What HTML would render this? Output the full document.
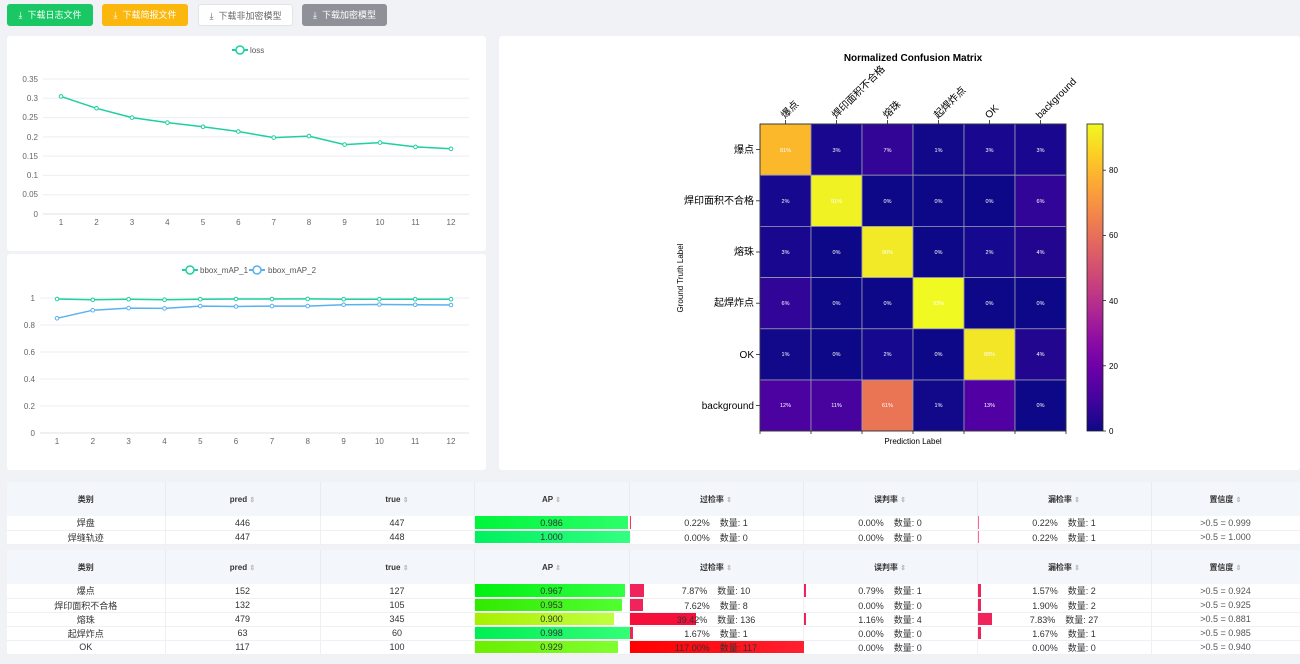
<!DOCTYPE html>
<html><head><meta charset="utf-8">
<style>
*{box-sizing:border-box;margin:0;padding:0}
body{width:1300px;height:664px;background:#f0f2f5;font-family:"Liberation Sans","Noto Sans CJK SC",sans-serif;position:relative;overflow:hidden}
.btn{position:absolute;top:4px;height:22px;border-radius:3px;font-size:9px;line-height:22px;text-align:center;color:#fff}
.card{position:absolute;background:#fff;border-radius:3px}
svg text{font-family:"Liberation Sans","Noto Sans CJK SC",sans-serif}
table{position:absolute;left:7px;width:1293px;border-collapse:collapse;background:#fff;table-layout:fixed;font-size:9px;color:#333}
th{background:#f3f6fb;font-weight:bold;font-size:8px;color:#333;border-right:1px solid #e8ebf0;height:34px}
td{text-align:center;height:14px;border-bottom:1px solid #eef0f3;border-right:1px solid #f0f0f0;position:relative;padding:0;white-space:nowrap}
td span{position:relative}
.bar{position:absolute;left:0;top:0;bottom:1px}
.s{color:#bbb;font-size:7px}
</style></head><body>
<div class="btn" style="left:7px;width:86px;background:#19c864">⤓&nbsp;&nbsp;下载日志文件</div>
<div class="btn" style="left:102px;width:86px;background:#fbb70d">⤓&nbsp;&nbsp;下载简报文件</div>
<div class="btn" style="left:198px;width:95px;background:#fff;color:#666;border:1px solid #e4e4e4">⤓&nbsp;&nbsp;下载非加密模型</div>
<div class="btn" style="left:302px;width:85px;background:#8e9197">⤓&nbsp;&nbsp;下载加密模型</div>

<div class="card" style="left:7px;top:36px;width:479px;height:215px"></div>
<div class="card" style="left:7px;top:254px;width:479px;height:216px"></div>
<div class="card" style="left:499px;top:36px;width:801px;height:434px"></div>

<svg style="position:absolute;left:0;top:0" width="1300" height="480">
<g font-size="8" fill="#666" text-anchor="end">
<g stroke="#eceef4" stroke-width="1">
<line x1="43" x2="469" y1="79" y2="79"/><line x1="43" x2="469" y1="98.3" y2="98.3"/><line x1="43" x2="469" y1="117.6" y2="117.6"/><line x1="43" x2="469" y1="136.9" y2="136.9"/><line x1="43" x2="469" y1="156.1" y2="156.1"/><line x1="43" x2="469" y1="175.4" y2="175.4"/><line x1="43" x2="469" y1="194.7" y2="194.7"/><line x1="43" x2="469" y1="214" y2="214" stroke="#dde0e8"/>
<line x1="40" x2="469" y1="298" y2="298"/><line x1="40" x2="469" y1="325" y2="325"/><line x1="40" x2="469" y1="352" y2="352"/><line x1="40" x2="469" y1="379" y2="379"/><line x1="40" x2="469" y1="406" y2="406"/><line x1="40" x2="469" y1="433" y2="433" stroke="#dde0e8"/>
</g>
<text x="38" y="82">0.35</text><text x="38" y="101">0.3</text><text x="38" y="120">0.25</text><text x="38" y="140">0.2</text><text x="38" y="159">0.15</text><text x="38" y="178">0.1</text><text x="38" y="197">0.05</text><text x="38" y="217">0</text>
<text x="35" y="301">1</text><text x="35" y="328">0.8</text><text x="35" y="355">0.6</text><text x="35" y="382">0.4</text><text x="35" y="409">0.2</text><text x="35" y="436">0</text>
</g>
<g font-size="8" fill="#666" text-anchor="middle">
<text x="61" y="225">1</text><text x="96.5" y="225">2</text><text x="132" y="225">3</text><text x="167.4" y="225">4</text><text x="203" y="225">5</text><text x="238.3" y="225">6</text><text x="273.7" y="225">7</text><text x="309" y="225">8</text><text x="344.6" y="225">9</text><text x="380" y="225">10</text><text x="415.5" y="225">11</text><text x="451" y="225">12</text>
<text x="57" y="444">1</text><text x="92.8" y="444">2</text><text x="128.6" y="444">3</text><text x="164.5" y="444">4</text><text x="200.3" y="444">5</text><text x="236" y="444">6</text><text x="272" y="444">7</text><text x="307.7" y="444">8</text><text x="343.6" y="444">9</text><text x="379.4" y="444">10</text><text x="415.2" y="444">11</text><text x="451" y="444">12</text>
</g>
<!-- legend 1 -->
<line x1="232" x2="248" y1="50" y2="50" stroke="#1ecfa0" stroke-width="2"/><circle cx="240" cy="50" r="4" fill="#fff" stroke="#1ecfa0" stroke-width="1.5"/>
<text x="250" y="53" font-size="8" fill="#555">loss</text>
<polyline fill="none" stroke="#1ecfa0" stroke-width="1.5" points="61,96.4 96.5,108.3 132,117.6 167.4,122.6 203,126.8 238.3,131.5 273.7,137.6 309,136.1 344.6,144.6 380,142.6 415.5,146.9 451,148.8"/>
<g fill="#fff" stroke="#1ecfa0" stroke-width="1">
<circle cx="61" cy="96.4" r="1.8"/><circle cx="96.5" cy="108.3" r="1.8"/><circle cx="132" cy="117.6" r="1.8"/><circle cx="167.4" cy="122.6" r="1.8"/><circle cx="203" cy="126.8" r="1.8"/><circle cx="238.3" cy="131.5" r="1.8"/><circle cx="273.7" cy="137.6" r="1.8"/><circle cx="309" cy="136.1" r="1.8"/><circle cx="344.6" cy="144.6" r="1.8"/><circle cx="380" cy="142.6" r="1.8"/><circle cx="415.5" cy="146.9" r="1.8"/><circle cx="451" cy="148.8" r="1.8"/>
</g>
<!-- legend 2 -->
<line x1="182" x2="198" y1="270" y2="270" stroke="#1ecfa0" stroke-width="2"/><circle cx="190" cy="270" r="4" fill="#fff" stroke="#1ecfa0" stroke-width="1.5"/>
<text x="200" y="273" font-size="8" fill="#555">bbox_mAP_1</text>
<line x1="249" x2="265" y1="270" y2="270" stroke="#5ab1ef" stroke-width="2"/><circle cx="257" cy="270" r="4" fill="#fff" stroke="#5ab1ef" stroke-width="1.5"/>
<text x="268" y="273" font-size="8" fill="#555">bbox_mAP_2</text>
<polyline fill="none" stroke="#1ecfa0" stroke-width="1.5" points="57,299 92.8,299.8 128.6,299.2 164.5,299.7 200.3,299.2 236,299 272,299 307.7,298.9 343.6,299.2 379.4,299.2 415.2,299.2 451,299.2"/>
<polyline fill="none" stroke="#5ab1ef" stroke-width="1.5" points="57,318.3 92.8,310.2 128.6,308.1 164.5,308.4 200.3,306.1 236,306.5 272,306.1 307.7,306.1 343.6,304.8 379.4,304.5 415.2,304.8 451,305"/>
<g fill="#fff" stroke="#1ecfa0" stroke-width="1">
<circle cx="57" cy="299" r="1.8"/><circle cx="92.8" cy="299.8" r="1.8"/><circle cx="128.6" cy="299.2" r="1.8"/><circle cx="164.5" cy="299.7" r="1.8"/><circle cx="200.3" cy="299.2" r="1.8"/><circle cx="236" cy="299" r="1.8"/><circle cx="272" cy="299" r="1.8"/><circle cx="307.7" cy="298.9" r="1.8"/><circle cx="343.6" cy="299.2" r="1.8"/><circle cx="379.4" cy="299.2" r="1.8"/><circle cx="415.2" cy="299.2" r="1.8"/><circle cx="451" cy="299.2" r="1.8"/>
</g>
<g fill="#fff" stroke="#5ab1ef" stroke-width="1">
<circle cx="57" cy="318.3" r="1.8"/><circle cx="92.8" cy="310.2" r="1.8"/><circle cx="128.6" cy="308.1" r="1.8"/><circle cx="164.5" cy="308.4" r="1.8"/><circle cx="200.3" cy="306.1" r="1.8"/><circle cx="236" cy="306.5" r="1.8"/><circle cx="272" cy="306.1" r="1.8"/><circle cx="307.7" cy="306.1" r="1.8"/><circle cx="343.6" cy="304.8" r="1.8"/><circle cx="379.4" cy="304.5" r="1.8"/><circle cx="415.2" cy="304.8" r="1.8"/><circle cx="451" cy="305" r="1.8"/>
</g>

<!-- confusion matrix -->
<text x="913" y="61" font-size="10" font-weight="bold" text-anchor="middle" fill="#000">Normalized Confusion Matrix</text>
<g stroke="#9a9ab0" stroke-width="0.8">
<rect x="760" y="124" width="51" height="51.2" fill="#fbb82b"/><rect x="811" y="124" width="51" height="51.2" fill="#1a0790"/><rect x="862" y="124" width="51" height="51.2" fill="#330597"/><rect x="913" y="124" width="51" height="51.2" fill="#12088a"/><rect x="964" y="124" width="51" height="51.2" fill="#1a0790"/><rect x="1015" y="124" width="51" height="51.2" fill="#1a0790"/>
<rect x="760" y="175.2" width="51" height="51.2" fill="#170890"/><rect x="811" y="175.2" width="51" height="51.2" fill="#f0f224"/><rect x="862" y="175.2" width="51" height="51.2" fill="#0d0887"/><rect x="913" y="175.2" width="51" height="51.2" fill="#0d0887"/><rect x="964" y="175.2" width="51" height="51.2" fill="#0d0887"/><rect x="1015" y="175.2" width="51" height="51.2" fill="#300597"/>
<rect x="760" y="226.4" width="51" height="51.2" fill="#1a0790"/><rect x="811" y="226.4" width="51" height="51.2" fill="#0d0887"/><rect x="862" y="226.4" width="51" height="51.2" fill="#f2ea27"/><rect x="913" y="226.4" width="51" height="51.2" fill="#0d0887"/><rect x="964" y="226.4" width="51" height="51.2" fill="#170890"/><rect x="1015" y="226.4" width="51" height="51.2" fill="#22068f"/>
<rect x="760" y="277.6" width="51" height="51.2" fill="#300597"/><rect x="811" y="277.6" width="51" height="51.2" fill="#0d0887"/><rect x="862" y="277.6" width="51" height="51.2" fill="#0d0887"/><rect x="913" y="277.6" width="51" height="51.2" fill="#f0f921"/><rect x="964" y="277.6" width="51" height="51.2" fill="#0d0887"/><rect x="1015" y="277.6" width="51" height="51.2" fill="#0d0887"/>
<rect x="760" y="328.8" width="51" height="51.2" fill="#12088a"/><rect x="811" y="328.8" width="51" height="51.2" fill="#0d0887"/><rect x="862" y="328.8" width="51" height="51.2" fill="#170890"/><rect x="913" y="328.8" width="51" height="51.2" fill="#0d0887"/><rect x="964" y="328.8" width="51" height="51.2" fill="#f3e626"/><rect x="1015" y="328.8" width="51" height="51.2" fill="#22068f"/>
<rect x="760" y="380" width="51" height="51" fill="#4c02a1"/><rect x="811" y="380" width="51" height="51" fill="#48039f"/><rect x="862" y="380" width="51" height="51" fill="#ea7555"/><rect x="913" y="380" width="51" height="51" fill="#12088a"/><rect x="964" y="380" width="51" height="51" fill="#5101a3"/><rect x="1015" y="380" width="51" height="51" fill="#0d0887"/>
</g>
<rect x="760" y="124" width="306" height="307" fill="none" stroke="#222" stroke-width="0.8"/>
<g font-size="5.5" fill="#fff" text-anchor="middle">
<text x="785.5" y="152">81%</text><text x="836.5" y="152">3%</text><text x="887.5" y="152">7%</text><text x="938.5" y="152">1%</text><text x="989.5" y="152">3%</text><text x="1040.5" y="152">3%</text>
<text x="785.5" y="203">2%</text><text x="836.5" y="203">91%</text><text x="887.5" y="203">0%</text><text x="938.5" y="203">0%</text><text x="989.5" y="203">0%</text><text x="1040.5" y="203">6%</text>
<text x="785.5" y="254">3%</text><text x="836.5" y="254">0%</text><text x="887.5" y="254">90%</text><text x="938.5" y="254">0%</text><text x="989.5" y="254">2%</text><text x="1040.5" y="254">4%</text>
<text x="785.5" y="305">6%</text><text x="836.5" y="305">0%</text><text x="887.5" y="305">0%</text><text x="938.5" y="305">93%</text><text x="989.5" y="305">0%</text><text x="1040.5" y="305">0%</text>
<text x="785.5" y="356">1%</text><text x="836.5" y="356">0%</text><text x="887.5" y="356">2%</text><text x="938.5" y="356">0%</text><text x="989.5" y="356">89%</text><text x="1040.5" y="356">4%</text>
<text x="785.5" y="407">12%</text><text x="836.5" y="407">11%</text><text x="887.5" y="407">61%</text><text x="938.5" y="407">1%</text><text x="989.5" y="407">13%</text><text x="1040.5" y="407">0%</text>
</g>
<g stroke="#222" stroke-width="0.8">
<line x1="756" x2="760" y1="149.6" y2="149.6"/><line x1="756" x2="760" y1="200.8" y2="200.8"/><line x1="756" x2="760" y1="252" y2="252"/><line x1="756" x2="760" y1="303.2" y2="303.2"/><line x1="756" x2="760" y1="354.4" y2="354.4"/><line x1="756" x2="760" y1="405.6" y2="405.6"/>
<line x1="785.5" x2="785.5" y1="120" y2="124"/><line x1="836.5" x2="836.5" y1="120" y2="124"/><line x1="887.5" x2="887.5" y1="120" y2="124"/><line x1="938.5" x2="938.5" y1="120" y2="124"/><line x1="989.5" x2="989.5" y1="120" y2="124"/><line x1="1040.5" x2="1040.5" y1="120" y2="124"/>
<line x1="760" x2="760" y1="431" y2="434"/><line x1="811" x2="811" y1="431" y2="434"/><line x1="862" x2="862" y1="431" y2="434"/><line x1="913" x2="913" y1="431" y2="434"/><line x1="964" x2="964" y1="431" y2="434"/><line x1="1015" x2="1015" y1="431" y2="434"/><line x1="1066" x2="1066" y1="431" y2="434"/>
</g>
<g font-size="10" fill="#000" text-anchor="end">
<text x="754" y="153">爆点</text><text x="754" y="204">焊印面积不合格</text><text x="754" y="255">熔珠</text><text x="754" y="306">起焊炸点</text><text x="754" y="358">OK</text><text x="754" y="409">background</text>
</g>
<g font-size="10" fill="#000">
<text transform="translate(785,119) rotate(-45)">爆点</text>
<text transform="translate(836,119) rotate(-45)">焊印面积不合格</text>
<text transform="translate(887,119) rotate(-45)">熔珠</text>
<text transform="translate(938,119) rotate(-45)">起焊炸点</text>
<text transform="translate(989,119) rotate(-45)">OK</text>
<text transform="translate(1040,119) rotate(-45)">background</text>
</g>
<text x="913" y="444" font-size="8" text-anchor="middle" fill="#000">Prediction Label</text>
<text transform="translate(683,278) rotate(-90)" font-size="8" text-anchor="middle" fill="#000">Ground Truth Label</text>
<defs><linearGradient id="pl" x1="0" y1="1" x2="0" y2="0">
<stop offset="0" stop-color="#0d0887"/><stop offset="0.1" stop-color="#41049d"/><stop offset="0.2" stop-color="#6a00a8"/><stop offset="0.3" stop-color="#8f0da4"/><stop offset="0.4" stop-color="#b12a90"/><stop offset="0.5" stop-color="#cc4778"/><stop offset="0.6" stop-color="#e16462"/><stop offset="0.7" stop-color="#f2844b"/><stop offset="0.8" stop-color="#fca636"/><stop offset="0.9" stop-color="#fcce25"/><stop offset="1" stop-color="#f0f921"/>
</linearGradient></defs>
<rect x="1087" y="124" width="16" height="307" fill="url(#pl)" stroke="#222" stroke-width="0.8"/>
<g stroke="#222" stroke-width="0.8"><line x1="1103" x2="1106" y1="431" y2="431"/><line x1="1103" x2="1106" y1="365.8" y2="365.8"/><line x1="1103" x2="1106" y1="300.6" y2="300.6"/><line x1="1103" x2="1106" y1="235.4" y2="235.4"/><line x1="1103" x2="1106" y1="170.2" y2="170.2"/></g>
<g font-size="8" fill="#000"><text x="1109" y="434">0</text><text x="1109" y="369">20</text><text x="1109" y="304">40</text><text x="1109" y="238">60</text><text x="1109" y="173">80</text></g>
</svg>

<table style="top:482px">
<colgroup><col style="width:158px"><col style="width:155px"><col style="width:154px"><col style="width:155px"><col style="width:174px"><col style="width:174px"><col style="width:174px"><col style="width:149px"></colgroup>
<tr><th>类别</th><th>pred <span class="s">⇕</span></th><th>true <span class="s">⇕</span></th><th>AP <span class="s">⇕</span></th><th>过检率 <span class="s">⇕</span></th><th>误判率 <span class="s">⇕</span></th><th>漏检率 <span class="s">⇕</span></th><th>置信度 <span class="s">⇕</span></th></tr>
<tr><td>焊盘</td><td>446</td><td>447</td><td><div class="bar" style="width:153px;background:linear-gradient(90deg,#00f53a,#2cff6a)"></div><span>0.986</span></td><td><div class="bar" style="width:1px;background:#f35"></div><span>0.22%&nbsp;&nbsp;&nbsp;&nbsp;数量: 1</span></td><td><span>0.00%&nbsp;&nbsp;&nbsp;&nbsp;数量: 0</span></td><td><div class="bar" style="width:1px;background:#f69"></div><span>0.22%&nbsp;&nbsp;&nbsp;&nbsp;数量: 1</span></td><td style="color:#555">&gt;0.5 = 0.999</td></tr>
<tr><td>焊缝轨迹</td><td>447</td><td>448</td><td><div class="bar" style="width:155px;background:linear-gradient(90deg,#00f060,#33ff80)"></div><span>1.000</span></td><td><span>0.00%&nbsp;&nbsp;&nbsp;&nbsp;数量: 0</span></td><td><span>0.00%&nbsp;&nbsp;&nbsp;&nbsp;数量: 0</span></td><td><div class="bar" style="width:1px;background:#f69"></div><span>0.22%&nbsp;&nbsp;&nbsp;&nbsp;数量: 1</span></td><td style="color:#555">&gt;0.5 = 1.000</td></tr>
</table>

<table style="top:550px">
<colgroup><col style="width:158px"><col style="width:155px"><col style="width:154px"><col style="width:155px"><col style="width:174px"><col style="width:174px"><col style="width:174px"><col style="width:149px"></colgroup>
<tr><th>类别</th><th>pred <span class="s">⇕</span></th><th>true <span class="s">⇕</span></th><th>AP <span class="s">⇕</span></th><th>过检率 <span class="s">⇕</span></th><th>误判率 <span class="s">⇕</span></th><th>漏检率 <span class="s">⇕</span></th><th>置信度 <span class="s">⇕</span></th></tr>
<tr><td>爆点</td><td>152</td><td>127</td><td><div class="bar" style="width:150px;background:linear-gradient(90deg,#00f010,#33ff44)"></div><span>0.967</span></td><td><div class="bar" style="width:14px;background:#f0245a"></div><span>7.87%&nbsp;&nbsp;&nbsp;&nbsp;数量: 10</span></td><td><div class="bar" style="width:2px;background:#f0245a"></div><span>0.79%&nbsp;&nbsp;&nbsp;&nbsp;数量: 1</span></td><td><div class="bar" style="width:3px;background:#f0245a"></div><span>1.57%&nbsp;&nbsp;&nbsp;&nbsp;数量: 2</span></td><td style="color:#555">&gt;0.5 = 0.924</td></tr>
<tr><td>焊印面积不合格</td><td>132</td><td>105</td><td><div class="bar" style="width:147px;background:linear-gradient(90deg,#30ea00,#50ff30)"></div><span>0.953</span></td><td><div class="bar" style="width:13px;background:#f0245a"></div><span>7.62%&nbsp;&nbsp;&nbsp;&nbsp;数量: 8</span></td><td><span>0.00%&nbsp;&nbsp;&nbsp;&nbsp;数量: 0</span></td><td><div class="bar" style="width:3px;background:#f0245a"></div><span>1.90%&nbsp;&nbsp;&nbsp;&nbsp;数量: 2</span></td><td style="color:#555">&gt;0.5 = 0.925</td></tr>
<tr><td>熔珠</td><td>479</td><td>345</td><td><div class="bar" style="width:139px;background:linear-gradient(90deg,#a8f000,#c0ff40)"></div><span>0.900</span></td><td><div class="bar" style="width:66px;background:#f5103c"></div><span>39.42%&nbsp;&nbsp;&nbsp;&nbsp;数量: 136</span></td><td><div class="bar" style="width:2px;background:#f0245a"></div><span>1.16%&nbsp;&nbsp;&nbsp;&nbsp;数量: 4</span></td><td><div class="bar" style="width:14px;background:#f0245a"></div><span>7.83%&nbsp;&nbsp;&nbsp;&nbsp;数量: 27</span></td><td style="color:#555">&gt;0.5 = 0.881</td></tr>
<tr><td>起焊炸点</td><td>63</td><td>60</td><td><div class="bar" style="width:155px;background:linear-gradient(90deg,#00ee55,#33ff77)"></div><span>0.998</span></td><td><div class="bar" style="width:3px;background:#f0245a"></div><span>1.67%&nbsp;&nbsp;&nbsp;&nbsp;数量: 1</span></td><td><span>0.00%&nbsp;&nbsp;&nbsp;&nbsp;数量: 0</span></td><td><div class="bar" style="width:3px;background:#f0245a"></div><span>1.67%&nbsp;&nbsp;&nbsp;&nbsp;数量: 1</span></td><td style="color:#555">&gt;0.5 = 0.985</td></tr>
<tr><td>OK</td><td>117</td><td>100</td><td><div class="bar" style="width:143px;background:linear-gradient(90deg,#6aee00,#80ff30)"></div><span>0.929</span></td><td><div class="bar" style="width:174px;background:linear-gradient(90deg,#ff0000,#ff2030)"></div><span>117.00%&nbsp;&nbsp;&nbsp;&nbsp;数量: 117</span></td><td><span>0.00%&nbsp;&nbsp;&nbsp;&nbsp;数量: 0</span></td><td><span>0.00%&nbsp;&nbsp;&nbsp;&nbsp;数量: 0</span></td><td style="color:#555">&gt;0.5 = 0.940</td></tr>
</table>
</body></html>
